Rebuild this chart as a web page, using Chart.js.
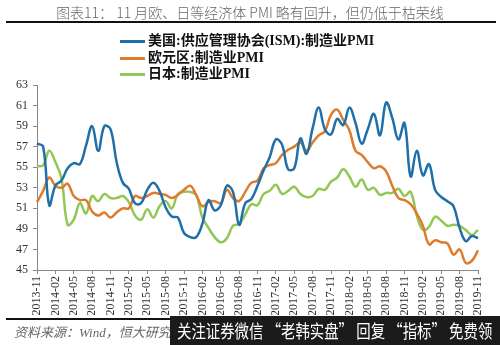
<!DOCTYPE html>
<html>
<head>
<meta charset="utf-8">
<script src="https://cdn.jsdelivr.net/npm/chart.js@4/dist/chart.umd.min.js"></script>
<style>
  html, body { margin: 0; padding: 0; background: #fff; }
  #wrap { position: relative; width: 500px; height: 345px; overflow: hidden; }
  #chart { position: absolute; left: 0; top: 0; }
  .title { position: absolute; top: 2px; left: 0; width: 500px; text-align: center;
    font: 300 14px "Noto Sans CJK SC", sans-serif; color: #666; }
  .rule { position: absolute; left: 6px; width: 490px; height: 2px; background: #111; }
  .legend { position: absolute; left: 120px; top: 29px; }
  .legend div { height: 16.5px; line-height: 16.5px; font: bold 14px "Liberation Serif", "Noto Sans CJK SC", serif; color: #111; white-space: nowrap; }
  .legend span { display: inline-block; width: 25px; height: 3px; vertical-align: middle; margin-right: 3px; }
  .source { position: absolute; left: 14px; top: 322px; font: italic 13px "Liberation Serif", "Noto Sans CJK SC", serif; color: #666; }
  .mark { position: absolute; left: 170px; top: 316px; width: 330px; height: 29px; background: #1b1b1b; overflow: hidden; }
  .mark span { position: absolute; left: 7px; top: 0; color: #fff; font: 18px "Noto Sans CJK SC", sans-serif; line-height: 29px;
    white-space: nowrap; transform: scaleX(0.8); transform-origin: 0 50%; }
</style>
</head>
<body>
<div id="wrap">
  <canvas id="chart" width="500" height="345"></canvas>
  <div class="title">图表11： 11 月欧、日等经济体 PMI 略有回升，但仍低于枯荣线</div>
  <div class="rule" style="top:21px"></div>
  <div class="legend" id="legend"></div>
  <div class="rule" style="top:318px"></div>
  <div class="source">资料来源：Wind，恒大研究院</div>
  <div class="mark"><span>关注证券微信 “老韩实盘” 回复 “指标” 免费领</span></div>
</div>
<script>
// months 2013-11 .. 2019-11
const months = [];
for (let y = 2013, m = 11; y < 2019 || (y === 2019 && m <= 11); m++) {
  if (m > 12) { m = 1; y++; }
  months.push(y + '-' + String(m).padStart(2, '0'));
}

const seriesNames = ['美国:供应管理协会(ISM):制造业PMI', '欧元区:制造业PMI', '日本:制造业PMI'];
const seriesColors = ['#1f6fa9', '#e07b2b', '#92c756'];

const usPMI = [
  57.3, 57.0,
  51.3, 53.2, 53.7, 54.9, 55.4, 55.3, 57.1, 59.0, 56.6, 59.0, 58.7, 55.5,
  53.5, 52.9, 51.5, 51.5, 52.8, 53.5, 52.7, 51.1, 50.2, 50.1, 48.6, 48.2,
  48.2, 49.5, 51.8, 50.8, 51.3, 53.2, 52.6, 49.4, 51.5, 51.9, 53.2, 54.7,
  56.0, 57.7, 57.2, 54.8, 54.9, 57.8, 56.3, 58.8, 60.8, 58.7, 58.2, 59.7,
  59.1, 60.8, 59.3, 57.3, 58.7, 60.2, 58.1, 61.3, 59.8, 57.7, 59.3, 54.1,
  56.6, 54.2, 55.3, 52.8, 52.1, 51.7, 51.2, 49.1, 47.8, 48.3, 48.1
];
const euroPMI = [
  51.6, 52.7,
  54.0, 53.2, 53.0, 53.4, 52.2, 51.8, 51.8, 50.7, 50.3, 50.6, 50.1, 50.6,
  51.0, 51.0, 52.2, 52.0, 52.2, 52.5, 52.4, 52.3, 52.0, 52.3, 52.8, 53.2,
  52.3, 51.2, 51.6, 51.7, 51.5, 52.8, 52.0, 51.7, 52.6, 53.5, 53.7, 54.9,
  55.2, 55.4, 56.2, 56.7, 57.0, 57.4, 56.6, 57.4, 58.1, 58.5, 60.1, 60.6,
  59.6, 58.6, 56.6, 56.2, 55.5, 54.9, 55.1, 54.6, 53.2, 52.0, 51.8, 51.4,
  50.5, 49.3, 47.5, 47.9, 47.7, 47.6, 46.5, 47.0, 45.7, 45.9, 46.9
];
const japanPMI = [
  55.1, 55.2,
  56.6, 55.5, 53.9, 49.4, 49.9, 51.5, 50.5, 52.2, 51.7, 52.4, 52.0, 52.0,
  52.2, 51.6, 50.3, 49.9, 50.9, 50.1, 51.2, 51.7, 51.0, 52.4, 52.6, 52.6,
  52.3, 50.1, 49.1, 48.2, 47.7, 48.1, 49.3, 49.5, 50.4, 51.4, 51.3, 52.4,
  52.7, 53.3, 52.4, 52.7, 53.1, 52.4, 52.1, 52.2, 52.9, 52.8, 53.6, 54.0,
  54.8, 54.1, 53.1, 53.8, 52.8, 53.0, 52.3, 52.5, 52.5, 52.9, 52.2, 52.6,
  50.3, 48.9, 49.2, 50.2, 49.8, 49.3, 49.4, 49.3, 48.9, 48.4, 48.9
];

const yMin = 45, yMax = 63, yStep = 2;

const legendBox = document.getElementById('legend');
seriesNames.forEach((name, i) => {
  const row = document.createElement('div');
  row.innerHTML = '<span style="background:' + seriesColors[i] + '"></span>' + name;
  legendBox.appendChild(row);
});

const axisFont = { family: '"Liberation Serif", serif', size: 12 };

new Chart(document.getElementById('chart'), {
  type: 'line',
  data: {
    labels: months,
    datasets: [usPMI, euroPMI, japanPMI].map((d, i) => ({
      label: seriesNames[i],
      data: d,
      borderColor: seriesColors[i],
      borderWidth: 2.5,
      pointRadius: 0,
      tension: 0.4,
      fill: false,
    })),
  },
  options: {
    responsive: false,
    animation: false,
    layout: { padding: { top: 85, left: 0, right: 22, bottom: 30 } },
    plugins: { legend: { display: false }, tooltip: { enabled: false } },
    scales: {
      x: {
        offset: false,
        afterFit: (s) => { s.height = 45; },
        afterBuildTicks: (s) => { s.ticks = s.ticks.filter((t) => t.value % 3 === 0); },
        grid: { display: true, drawOnChartArea: false, drawTicks: true, tickLength: 4, color: '#888' },
        border: { color: '#888', width: 1 },
        ticks: {
          autoSkip: false, maxRotation: 90, minRotation: 90, padding: 2,
          color: '#333', font: axisFont,
          callback: (v) => months[v],
        },
      },
      y: {
        min: yMin, max: yMax,
        afterFit: (s) => { s.width = 37; },
        grid: { display: true, drawOnChartArea: false, drawTicks: true, tickLength: 4, color: '#888' },
        border: { color: '#888', width: 1 },
        ticks: { stepSize: yStep, padding: 5, color: '#333', font: axisFont },
      },
    },
  },
});
</script>
</body>
</html>
